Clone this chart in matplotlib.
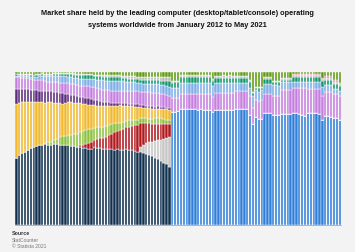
import matplotlib
matplotlib.use("Agg")
import matplotlib.pyplot as plt
import numpy as np
import pandas as pd

# monthly shares in percent, Jan 2012 - May 2021
months = pd.date_range("2012-01-01", "2021-05-01", freq="MS")

# old breakdown by Windows version (Jan 2012 - Jun 2016)
win7 = [44.0, 45.6, 46.8, 48.0, 49.3, 50.2, 51.0, 51.8, 52.3, 52.6,
        52.8, 52.5, 52.4, 52.9, 53.1, 52.6, 52.3, 52.0, 52.2, 51.8,
        51.5, 51.0, 50.9, 50.6, 50.3, 50.0, 49.7, 50.8, 50.5, 50.2,
        49.9, 49.5, 49.8, 49.4, 49.1, 49.4, 49.0, 48.9, 49.5, 49.2,
        48.8, 48.5, 48.0, 47.6, 47.0, 46.4, 45.8, 44.9, 44.1, 43.0,
        41.9, 40.8, 39.6, 38.2]
win10 = [0.0] * 43 + [3.5, 5.5, 7.0, 8.2, 9.5, 11.0, 12.5, 14.0, 15.5, 17.0, 19.5]
win81 = [0.0] * 22 + [1.2, 2.0, 2.9, 3.8, 4.6, 5.0, 5.8, 6.5, 7.0, 8.0,
                      9.0, 10.2, 11.4, 12.2, 13.0, 13.8, 14.4, 15.2, 16.0, 16.8,
                      17.4, 15.6, 14.2, 13.2, 12.4, 11.8, 11.2, 10.8, 10.4, 10.0,
                      9.2, 8.2]
win8 = [0.0] * 10 + [1.0, 1.6, 2.0, 2.5, 3.2, 5.2, 5.8, 6.2, 6.8, 7.2,
                     7.8, 8.2, 8.6, 8.8, 8.9, 8.8, 8.6, 7.4, 7.6, 7.6,
                     7.5, 7.2, 6.9, 6.6, 6.0, 5.4, 5.0, 4.7, 4.4, 4.1,
                     3.8, 3.6, 3.4, 3.3, 3.2, 3.2, 3.1, 3.2, 3.4, 3.5,
                     3.4, 3.3, 3.1, 2.9]
winxp = [34.9, 34.4, 33.6, 32.4, 31.2, 30.2, 29.4, 28.5, 28.1, 27.6,
         26.2, 26.1, 26.0, 24.6, 23.5, 21.7, 21.3, 21.8, 21.3, 21.2,
         20.7, 20.6, 19.2, 17.9, 16.9, 16.1, 15.5, 15.0, 14.0, 13.3,
         13.2, 13.0, 12.1, 11.4, 11.2, 11.0, 11.2, 10.7, 9.5, 9.1,
         8.9, 8.5, 8.5, 7.0, 6.8, 6.7, 6.8, 6.7, 6.3, 6.3,
         6.3, 6.2, 6.7, 6.6]
vista = [10.2, 9.1, 8.6, 8.6, 8.3, 7.9, 7.6, 7.7, 7.5, 7.6,
         7.6, 7.3, 7.0, 7.3, 7.2, 7.0, 6.8, 6.0, 5.4, 5.1,
         5.0, 4.8, 4.1, 4.3, 4.3, 4.3, 4.2, 3.8, 3.7, 3.6,
         3.0, 2.6, 2.4, 2.3, 2.1, 1.9, 1.8, 1.8, 1.8, 1.7,
         1.7, 1.6, 1.6, 1.6, 1.5, 1.5, 1.5, 1.5, 1.4, 1.4,
         1.3, 1.3, 1.2, 1.1]

# new breakdown, all Windows together (Jul 2016 - May 2021)
windows = [73.8, 74.2, 74.5, 75.8, 76.0, 75.8, 75.6, 75.7, 75.6, 75.5,
           75.6, 75.4, 75.5, 75.3, 73.9, 75.0, 75.2, 75.1, 75.2, 75.0,
           75.1, 75.3, 75.9, 76.0, 75.8, 75.9, 75.6, 71.8, 65.8, 70.6,
           69.5, 69.4, 73.2, 73.3, 73.0, 72.2, 72.0, 71.8, 72.8, 72.9,
           72.8, 72.9, 73.2, 73.1, 72.8, 71.8, 71.6, 73.0, 73.4, 73.2,
           73.0, 72.7, 68.8, 71.0, 71.2, 70.9, 70.2, 70.0, 68.8]

# series over the whole period
osx = [7.6, 7.5, 7.4, 7.3, 7.2, 7.3, 7.1, 7.0, 7.2, 7.2,
       6.6, 6.3, 6.1, 6.3, 6.5, 6.6, 6.6, 6.8, 7.0, 7.1,
       6.9, 6.8, 6.7, 7.1, 7.4, 7.6, 7.8, 8.2, 8.0, 7.9,
       7.8, 7.8, 7.9, 8.0, 8.1, 7.8, 7.7, 7.7, 7.9, 8.2,
       8.4, 8.6, 8.6, 8.5, 8.7, 8.8, 8.9, 8.9, 8.9, 8.8,
       8.7, 8.7, 8.2, 7.6,
       9.2, 9.0, 8.7, 10.0, 9.8, 10.0, 10.2, 10.1, 10.2, 10.3,
       10.2, 10.4, 10.3, 10.5, 9.8, 11.3, 11.1, 11.2, 11.1, 11.3,
       11.2, 11.0, 11.7, 11.6, 11.8, 11.7, 11.9, 12.3, 10.9, 10.9,
       11.7, 12.1, 12.6, 12.5, 12.8, 12.3, 12.5, 12.7, 15.6, 15.5,
       15.6, 15.5, 16.5, 16.6, 16.9, 17.9, 18.0, 16.1, 15.7, 15.9,
       16.1, 16.4, 15.6, 15.9, 15.7, 16.0, 15.6, 15.8, 15.3]
unknown = [1.0, 1.0, 1.1, 1.2, 1.3, 1.5, 1.8, 2.1, 2.3, 2.6,
           3.0, 3.4, 3.7, 3.9, 4.1, 4.3, 4.4, 4.4, 4.3, 4.3,
           4.5, 4.7, 4.9, 4.9, 4.8, 4.8, 4.8, 5.0, 5.4, 5.8,
           6.2, 6.3, 6.4, 6.5, 6.5, 6.5, 6.5, 6.5, 6.3, 6.1,
           6.0, 5.9, 5.7, 5.5, 5.5, 5.5, 5.6, 5.7, 5.7, 5.6,
           5.5, 5.5, 5.8, 6.1,
           6.3, 6.4, 6.5, 7.0, 7.1, 6.9, 7.0, 7.2, 7.0, 6.9,
           7.1, 7.0, 6.8, 7.0, 6.9, 6.5, 6.6, 6.4, 6.5, 6.5,
           6.6, 6.3, 5.2, 5.3, 5.2, 5.1, 5.3, 5.6, 7.4, 6.5,
           5.7, 6.9, 6.6, 6.5, 6.7, 6.8, 6.9, 6.7, 5.1, 5.2,
           5.1, 5.0, 3.8, 3.9, 3.8, 3.8, 3.9, 4.4, 4.4, 4.3,
           4.4, 4.5, 5.8, 4.4, 4.4, 4.4, 3.3, 3.3, 3.5]
linux = [0.8, 0.8, 0.8, 0.8, 0.9, 0.9, 0.9, 1.0, 1.0, 1.0,
         1.1, 1.1, 1.2, 1.2, 1.3, 1.4, 1.5, 1.6, 1.7, 1.8,
         2.0, 2.2, 2.4, 2.6, 2.7, 2.8, 2.8, 2.2, 2.3, 2.4,
         2.5, 2.5, 2.6, 2.6, 2.6, 2.5, 2.4, 2.3, 2.2, 2.1,
         2.1, 2.1, 2.2, 2.2, 2.2, 2.3, 2.4, 2.5, 2.6, 2.7,
         2.8, 3.0, 3.4, 3.8,
         3.6, 3.7, 3.8, 3.9, 3.8, 4.0, 3.9, 3.7, 3.8, 3.9,
         3.7, 3.8, 3.9, 3.7, 3.6, 3.5, 3.4, 3.6, 3.5, 3.4,
         3.5, 3.5, 3.5, 3.4, 3.5, 3.6, 3.5, 3.8, 2.2, 1.7,
         2.8, 1.3, 3.2, 3.3, 3.1, 2.2, 2.1, 2.3, 1.5, 1.4,
         1.5, 1.6, 3.2, 3.1, 3.2, 3.2, 3.2, 3.2, 3.2, 3.3,
         3.2, 3.1, 3.9, 3.7, 3.7, 3.7, 3.3, 3.3, 3.1]
other = [0.5, 0.5, 0.5, 0.5, 0.5, 0.5, 0.5, 0.5, 0.5, 0.5,
         0.6, 0.6, 0.6, 0.6, 0.6, 0.6, 0.6, 0.6, 0.6, 0.6,
         0.7, 0.7, 0.7, 0.7, 0.7, 0.7, 0.7, 0.8, 0.9, 0.9,
         1.0, 1.0, 1.0, 1.1, 1.1, 1.2, 1.2, 1.3, 1.4, 1.5,
         1.5, 1.6, 1.7, 1.9, 2.0, 2.0, 2.0, 2.1, 2.1, 2.2,
         2.3, 2.3, 2.4, 2.5,
         1.0, 1.0, 1.0, 1.6, 1.6, 1.6, 1.5, 1.6, 1.6, 1.5,
         1.6, 1.6, 1.5, 1.6, 1.5, 1.4, 1.4, 1.4, 1.5, 1.4,
         1.4, 1.4, 1.4, 1.4, 1.4, 1.4, 1.4, 1.2, 0.8, 0.8,
         0.8, 0.8, 1.0, 1.0, 1.0, 1.0, 1.0, 1.0, 1.2, 1.2,
         1.2, 1.2, 1.2, 1.2, 1.2, 1.2, 1.2, 1.2, 1.2, 1.2,
         1.2, 1.2, 1.2, 1.2, 1.2, 1.2, 1.2, 1.2, 1.2]
ios = [0.0] * 96 + [0.6, 0.6, 0.7, 0.7, 0.8, 0.8, 0.8, 0.9, 0.9, 0.9,
                    0.9, 1.0, 1.0, 1.0, 1.1, 1.1, 1.2]
chrome_os = [1.0, 1.1, 1.2, 1.2, 1.3, 1.5, 1.7, 1.4, 1.1, 0.9,
             1.1, 1.1, 1.0, 0.7, 0.5, 0.6, 0.7, 0.6, 0.7, 0.9,
             0.9, 1.0, 1.3, 1.1, 1.1, 1.1, 1.3, 1.8, 1.8, 1.8,
             1.9, 2.1, 1.9, 1.9, 1.9, 2.1, 2.2, 2.3, 2.6, 2.8,
             2.8, 2.8, 2.9, 3.3, 3.4, 3.4, 3.3, 3.2, 3.3, 3.2,
             3.4, 3.4, 3.4, 3.5,
             6.1, 5.7, 5.5, 1.7, 1.7, 1.7, 1.8, 1.7, 1.8, 1.9,
             1.8, 1.8, 2.0, 1.9, 4.3, 2.3, 2.3, 2.3, 2.2, 2.4,
             2.2, 2.5, 2.3, 2.3, 2.3, 2.3, 2.3, 5.3, 12.9, 9.5,
             9.5, 9.5, 3.4, 3.4, 3.4, 5.5, 5.5, 5.5, 3.8, 3.8,
             3.8, 3.8, 1.5, 1.5, 1.4, 1.4, 1.3, 1.3, 1.3, 1.2,
             1.2, 1.2, 3.8, 2.8, 2.8, 2.8, 5.3, 5.3, 6.9]

n_old = len(win7)
n_new = len(windows)
pad_new = [0.0] * n_new
pad_old = [0.0] * n_old

series = [
    (pad_old + windows, "#2f7ed8"),
    (win7 + pad_new, "#12304f"),
    (win10 + pad_new, "#c6c6c6"),
    (win81 + pad_new, "#b0181c"),
    (win8 + pad_new, "#8dc03f"),
    (winxp + pad_new, "#f1b82d"),
    (vista + pad_new, "#5b2d7b"),
    (osx, "#c67ee0"),
    (unknown, "#7eafe8"),
    (linux, "#12986c"),
    (other, "#b8b8b8"),
    (ios, "#e2707e"),
    (chrome_os, "#5e9a12"),
]

bg = "#f3f3f3"
fig = plt.figure(figsize=(3.55, 2.53), dpi=100, facecolor=bg)
ax = fig.add_axes([0.042, 0.107, 0.919, 0.604])
ax.set_facecolor(bg)

x = np.arange(len(months))
bottom = np.zeros(len(months))
for values, color in series:
    values = np.array(values)
    ax.bar(x, values, bottom=bottom, width=0.8, color=color,
           edgecolor="white", linewidth=0.3)
    bottom += values

ax.set_xlim(-0.5, len(months) - 0.5)
ax.set_ylim(0, 100)
ax.set_xticks([])
ax.set_yticks([])
for side in ["top", "right", "left"]:
    ax.spines[side].set_visible(False)
ax.spines["bottom"].set_color("#9a9a9a")
ax.spines["bottom"].set_linewidth(0.5)

fig.text(0.5, 0.948, "Market share held by the leading computer (desktop/tablet/console) operating",
         ha="center", va="center", fontsize=5.3, fontweight="bold", family="Liberation Sans", color="#111111")
fig.text(0.5, 0.900, "systems worldwide from January 2012 to May 2021",
         ha="center", va="center", fontsize=5.3, fontweight="bold", family="Liberation Sans", color="#111111")

fig.text(0.034, 0.078, "Source", fontsize=3.8, fontweight="bold", family="Liberation Sans", color="#333333", va="center")
fig.text(0.034, 0.050, "StatCounter", fontsize=3.6, family="Liberation Sans", color="#777777", va="center")
fig.text(0.034, 0.024, "\u00a9 Statista 2021", fontsize=3.6, family="Liberation Sans", color="#777777", va="center")

fig.savefig("out.png", dpi=100, facecolor=bg)
plt.close(fig)
